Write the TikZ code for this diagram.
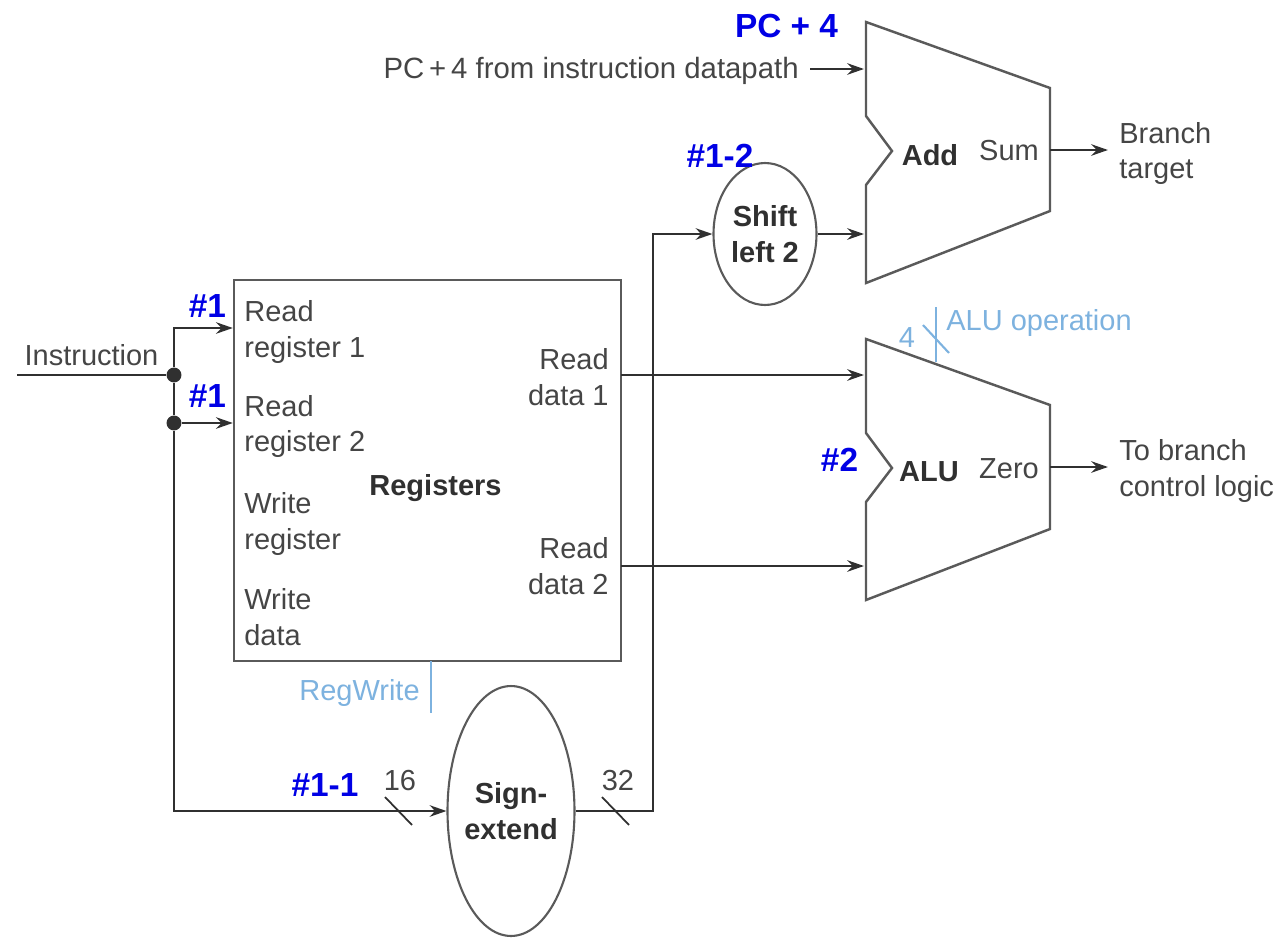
\documentclass[tikz,border=0pt]{standalone}
\usepackage{fontspec}
\setmainfont{Liberation Sans}
\usetikzlibrary{arrows.meta,shapes.geometric}

\definecolor{wirecol}{HTML}{303030}
\definecolor{boxcol}{HTML}{5A5A5A}
\definecolor{textcol}{HTML}{454545}
\definecolor{ctrlcol}{HTML}{7DB2DF}

\tikzset{
	wire/.style={line width=1.6pt, wirecol},
	wirearrow/.style={wire, -{Stealth[length=9.5pt,width=6.5pt]}},
	unit/.style={line width=1.4pt, boxcol, line join=miter},
	blob/.style={ellipse, draw=boxcol, line width=1.2pt, inner sep=0pt, inner xsep=-3pt, align=center, font=\fontsize{16.5}{20.4}\selectfont\bfseries, text=textcol!70!black},
	dot/.style={circle, fill=wirecol, inner sep=0pt, minimum size=8.5pt},
	lbl/.style={inner sep=0pt, align=left, text=textcol, font=\fontsize{16.5}{20.4}\selectfont},
	boldlbl/.style={lbl, text=textcol!70!black, font=\fontsize{16.5}{20.4}\selectfont\bfseries},
	ctrl/.style={lbl, text=ctrlcol},
	ctrlwire/.style={line width=1.2pt, ctrlcol},
	note/.style={inner sep=0pt, text=blue!90!black, font=\fontsize{19}{22}\selectfont\bfseries},
	slash/.style={line width=1pt, wirecol}
}

\begin{document}
\begin{tikzpicture}[x=0.02cm, y=-0.02cm]
	\useasboundingbox (0,0) rectangle (1286,940);

	% register file and the two ovals
	\node[draw=boxcol, line width=1.4pt, minimum width=7.74cm, minimum height=7.62cm, inner sep=0pt] (regs) at (427.5,470.5) {};
	\node[blob, minimum width=2.06cm, minimum height=2.84cm] (shift) at (765,234) {Shift\\left 2};
	\node[blob, minimum width=2.54cm, minimum height=5cm] (sign) at (511,811) {Sign-\\extend};

	% adder and ALU outlines
	\draw[unit] (866,22) -- (1050,88) -- (1050,211) -- (866,283) -- (866,185) -- (892,151) -- (866,116) -- cycle;
	\draw[unit] (866,339) -- (1050,405) -- (1050,529) -- (866,600) -- (866,502) -- (892,468) -- (866,433) -- cycle;

	% free wire ends
	\coordinate (instr) at (17,375);
	\coordinate (top) at (174,328);
	\coordinate (pcstart) at (810,69);
	\coordinate (pcend) at (864,69);
	\coordinate (shiftend) at (864,234);
	\coordinate (sumstart) at (1050,150);
	\coordinate (sumend) at (1108,150);
	\coordinate (data1start) at (621,375);
	\coordinate (data1end) at (864,375);
	\coordinate (data2start) at (621,566);
	\coordinate (data2end) at (864,566);
	\coordinate (zerostart) at (1050,467);
	\coordinate (zeroend) at (1108,467);
	\coordinate (corner) at (174,811);
	\coordinate (riser) at (653,811);

	\node[dot] (split1) at (174,375) {};
	\node[dot] (split2) at (174,423) {};

	% wires
	\draw[wire] (instr) -- (split1);
	\draw[wirearrow] (split1) -- (top) -- (top -| regs.west);
	\draw[wirearrow] (split2) -- (split2 -| regs.west);
	\draw[wire] (split1) -- (split2);
	\draw[wirearrow] (split2) -- (corner) -- (sign.west);
	\draw[wirearrow] (sign.east) -- (riser) -- (riser |- shift.west) -- (shift.west);
	\draw[wirearrow] (shift.east) -- (shiftend);
	\draw[wirearrow] (pcstart) -- (pcend);
	\draw[wirearrow] (sumstart) -- (sumend);
	\draw[wirearrow] (data1start) -- (data1end);
	\draw[wirearrow] (data2start) -- (data2end);
	\draw[wirearrow] (zerostart) -- (zeroend);

	% bus width ticks
	\draw[slash] (385,797) -- (412,825);
	\draw[slash] (602,797) -- (629,825);
	\node[lbl] (w16) at (400,781) {16};
	\node[lbl] (w32) at (618,781) {32};

	% control signals
	\draw[ctrlwire] (936,307) -- (936,362);
	\draw[ctrlwire] (923,325) -- (949,353);
	\draw[ctrlwire] (431,661) -- (431,713);
	\node[ctrl] (four) at (907,338) {4};
	\node[ctrl, anchor=west] (aluop) at (946,323) {ALU operation};
	\node[ctrl, anchor=east] (regwrite) at (420,693) {RegWrite};

	% register file ports
	\node[lbl, anchor=west] (rr1) at (244,332) {Read\\register 1};
	\node[lbl, anchor=west] (rr2) at (244,426.5) {Read\\register 2};
	\node[lbl, anchor=west] (wr) at (244,524) {Write\\register};
	\node[lbl, anchor=west] (wd) at (244,617.5) {Write\\data};
	\node[lbl, anchor=east, align=right] (rd1) at (609,377) {Read\\data 1};
	\node[lbl, anchor=east, align=right] (rd2) at (609,566.5) {Read\\data 2};
	\node[boldlbl] (regname) at (435.5,488) {Registers};

	% other labels
	\node[lbl] (instrlbl) at (91.5,355.5) {Instruction};
	\node[lbl, anchor=east, font=\fontsize{16.7}{20.4}\selectfont] (pclbl) at (799,71) {PC\,+\,4 from instruction datapath};
	\node[boldlbl] (addlbl) at (930,155) {Add};
	\node[lbl] (sumlbl) at (1009,151) {Sum};
	\node[boldlbl] (alulbl) at (929,472) {ALU};
	\node[lbl] (zerolbl) at (1009,469) {Zero};
	\node[lbl, anchor=west] (branch) at (1119,153.5) {Branch\\target};
	\node[lbl, anchor=west] (tobranch) at (1119,471) {To branch\\control logic};

	% stage notes
	\node[note] (notepc) at (786.5,26) {PC + 4};
	\node[note] (noteshift) at (720,156) {\#1-2};
	\node[note] (noterr1) at (207.5,306) {\#1};
	\node[note] (noterr2) at (207.5,396) {\#1};
	\node[note] (notesign) at (325,785) {\#1-1};
	\node[note] (notealu) at (839.5,460) {\#2};
\end{tikzpicture}
\end{document}
